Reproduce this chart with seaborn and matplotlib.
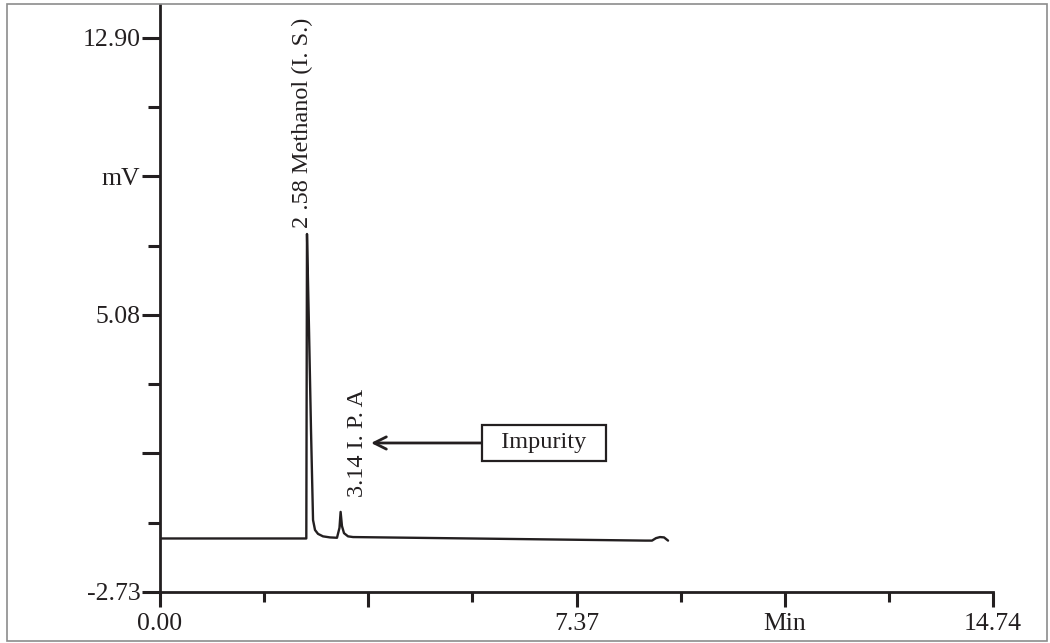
import matplotlib
matplotlib.use("Agg")
import matplotlib.pyplot as plt
import seaborn as sns
import pandas as pd
from matplotlib.patches import Rectangle
from matplotlib.ticker import FixedLocator, FixedFormatter

# ---- data ----
time_min = [0.00, 2.589, 2.601, 2.637, 2.672, 2.708, 2.743, 2.796, 2.884, 3.008,
            3.132, 3.176, 3.196, 3.220, 3.256, 3.327, 3.415, 6.017, 8.583, 8.706,
            8.777, 8.848, 8.919, 8.990]
signal_mv = [-1.22, -1.22, 7.37, 4.66, 1.84, -0.70, -0.98, -1.09, -1.16, -1.19,
             -1.20, -0.92, -0.47, -0.87, -1.07, -1.16, -1.18, -1.23, -1.28, -1.28,
             -1.21, -1.18, -1.19, -1.28]

x_major = [0.00, 3.685, 7.37, 11.055, 14.74]
x_major_labels = ["0.00", "", "7.37", "Min", "14.74"]
x_minor = [1.8425, 5.5275, 9.2125, 12.8975]
y_major = [-2.73, 1.1775, 5.085, 8.9925, 12.90]
y_major_labels = ["-2.73", "", "5.08", "mV", "12.90"]
y_minor = [-0.77625, 3.13125, 7.03875, 10.94625]

peak_labels = ["2 .58 Methanol (I. S.)", "3.14 I. P. A"]
box_label = "Impurity"

INK = "#231f20"

sns.set_theme(style="ticks")
plt.rcParams["font.family"] = ["Liberation Serif", "DejaVu Serif"]

fig = plt.figure(figsize=(10.5, 6.43), dpi=100)
ax = fig.add_axes([160 / 1050, 51 / 643, 833 / 1050, 587 / 643])

df = pd.DataFrame({"t": time_min, "s": signal_mv})
sns.lineplot(data=df, x="t", y="s", ax=ax, color=INK, lw=1.7,
             estimator=None, sort=False)

ax.set_xlim(0, 14.74)
ax.set_ylim(-2.73, 13.83)
ax.set_xlabel("")
ax.set_ylabel("")

for side in ("top", "right"):
    ax.spines[side].set_visible(False)
for side in ("left", "bottom"):
    ax.spines[side].set_linewidth(2.0)
    ax.spines[side].set_color(INK)

ax.xaxis.set_major_locator(FixedLocator(x_major))
ax.xaxis.set_major_formatter(FixedFormatter(x_major_labels))
ax.xaxis.set_minor_locator(FixedLocator(x_minor))
ax.yaxis.set_major_locator(FixedLocator(y_major))
ax.yaxis.set_major_formatter(FixedFormatter(y_major_labels))
ax.yaxis.set_minor_locator(FixedLocator(y_minor))

ax.tick_params(axis="x", which="major", length=11, width=2.2, color=INK,
               labelsize=18.5, labelcolor=INK, pad=4)
ax.tick_params(axis="x", which="minor", length=7, width=2.2, color=INK)
ax.tick_params(axis="y", which="major", length=13, width=2.2, color=INK,
               labelsize=18.5, labelcolor=INK, pad=1)
ax.tick_params(axis="y", which="minor", length=8.5, width=2.2, color=INK)

# peak labels
ax.annotate(peak_labels[0], xy=(time_min[2], signal_mv[2]), xytext=(-3, 4),
            textcoords="offset points", rotation=90, ha="center", va="bottom",
            fontsize=17.5, color=INK)
ax.annotate(peak_labels[1], xy=(3.49, -0.05), rotation=90, ha="center",
            va="bottom", fontsize=17.5, color=INK)

# impurity box with arrow
ax.annotate("  " + box_label + "  ", xy=(3.734, 1.474), xytext=(6.795, 1.474),
            ha="center", va="center", fontsize=17.5, color=INK,
            bbox=dict(boxstyle="square,pad=0.3", fc="white", ec=INK, lw=1.6),
            arrowprops=dict(arrowstyle="->", color=INK, lw=2.0,
                            mutation_scale=22, shrinkA=0, shrinkB=0))

# outer frame
fig.add_artist(Rectangle((7 / 1050, 2 / 643), 1040 / 1050, 637 / 643,
                         transform=fig.transFigure, fill=False,
                         ec="#8c8c8c", lw=1.2))

fig.savefig("out.png", dpi=100)
